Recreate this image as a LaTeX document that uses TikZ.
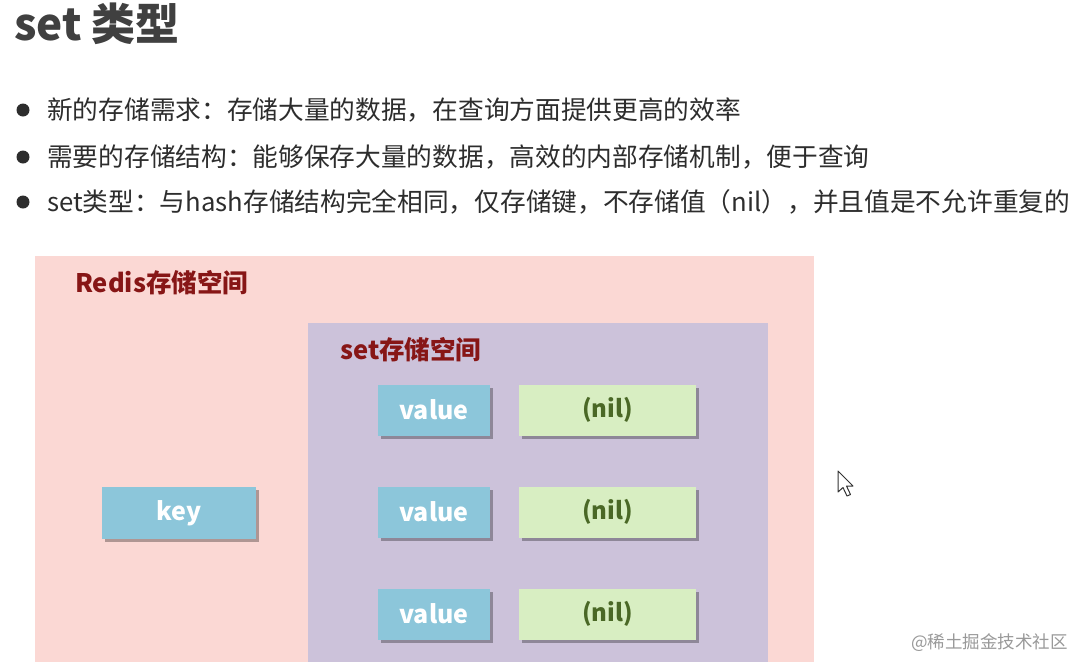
\documentclass[tikz,border=0pt]{standalone}
\usepackage{fontspec}
\setmainfont{Noto Sans CJK SC}
\usetikzlibrary{shadows}
\definecolor{pinkbg}{RGB}{251,216,212}
\definecolor{purplebg}{RGB}{204,194,218}
\definecolor{bluebox}{RGB}{140,198,218}
\definecolor{greenbox}{RGB}{216,238,194}
\definecolor{darkred}{RGB}{135,22,22}
\definecolor{nilgreen}{RGB}{74,104,38}
\definecolor{titlegray}{RGB}{64,64,64}
\definecolor{textgray}{RGB}{45,45,45}
\tikzset{
  boxshadow/.style={drop shadow={shadow xshift=3pt,shadow yshift=-3pt,fill=black,opacity=0.3}},
  valbox/.style={fill=bluebox,minimum width=112pt,minimum height=51pt,inner sep=0pt,boxshadow,
    font=\fontsize{25}{25}\selectfont\bfseries,text=white},
  nilbox/.style={fill=greenbox,minimum width=177pt,minimum height=51pt,inner sep=0pt,boxshadow,
    font=\fontsize{24}{24}\selectfont\bfseries,text=nilgreen},
  bullettext/.style={anchor=west,inner sep=0pt,text=textgray,font=\fontsize{25.7}{25.7}\selectfont},
  spacelabel/.style={anchor=west,inner sep=0pt,text=darkred,font=\fontsize{25.5}{25.5}\selectfont\bfseries},
}
\begin{document}
\begin{tikzpicture}[x=1pt,y=-1pt]
\useasboundingbox (0,0) rectangle (1074,662);
\fill[white] (0,0) rectangle (1074,662);
% title
\node[anchor=west,inner sep=0pt,text=titlegray,font=\fontsize{44}{44}\selectfont\bfseries] (title) at (14,24) {set 类型};
% bullets
\foreach \y in {110,157,202} {
  \fill[textgray] (23,\y) circle (6.5pt);
}
\node[bullettext] (t1) at (47,110) {新的存储需求：存储大量的数据，在查询方面提供更高的效率};
\node[bullettext] (t2) at (47,157) {需要的存储结构：能够保存大量的数据，高效的内部存储机制，便于查询};
\node[bullettext] (t3) at (47,202) {set类型：与hash存储结构完全相同，仅存储键，不存储值（nil），并且值是不允许重复的};
% containers
\fill[pinkbg] (35,256) rectangle (814,662);
\node[spacelabel] (redislabel) at (75,283) {Redis存储空间};
\fill[purplebg] (308,323) rectangle (768,662);
\node[spacelabel] (setlabel) at (340,350) {set存储空间};
% key
\node[valbox,minimum width=154pt,minimum height=52pt] (key) at (179,513) {key};
% values
\node[valbox] (v1) at (434,410) {value};
\node[valbox] (v2) at (434,512) {value};
\node[valbox] (v3) at (434,614) {value};
\node[nilbox] (n1) at (607.5,410) {(nil)};
\node[nilbox] (n2) at (607.5,512) {(nil)};
\node[nilbox] (n3) at (607.5,614) {(nil)};
% cursor
\draw[fill=white,draw=black!80,line width=1pt,line join=round]
  (838,471) -- (838,492) -- (843,487.5) -- (847,496) -- (850.5,494.5) -- (846.5,486) -- (853,486) -- cycle;
% watermark
\node[anchor=east,inner sep=0pt,text=black!40,font=\fontsize{17.5}{17.5}\selectfont] (wm) at (1068,643) {@稀土掘金技术社区};
\end{tikzpicture}
\end{document}
